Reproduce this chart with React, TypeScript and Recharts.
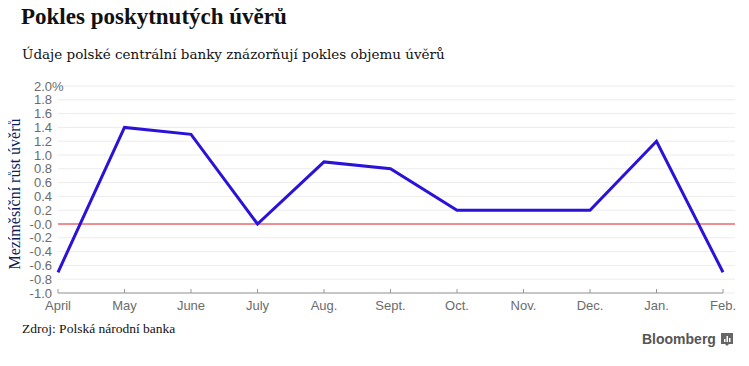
import React from "react";
import { LineChart, Line, XAxis, YAxis, CartesianGrid, ReferenceLine } from "recharts";

// meziměsíční změna objemu úvěrů (%)
const months = ["April", "May", "June", "July", "Aug.", "Sept.", "Oct.", "Nov.", "Dec.", "Jan.", "Feb."];
const growth = [-0.7, 1.4, 1.3, 0.0, 0.9, 0.8, 0.2, 0.2, 0.2, 1.2, -0.7];
const yTicks = [-1.0, -0.8, -0.6, -0.4, -0.2, 0, 0.2, 0.4, 0.6, 0.8, 1.0, 1.2, 1.4, 1.6, 1.8, 2.0];
const yTickLabels = ["-1.0", "-0.8", "-0.6", "-0.4", "-0.2", "-0.0", "0.2", "0.4", "0.6", "0.8", "1.0", "1.2", "1.4", "1.6", "1.8", "2.0"];

const data = months.map((m, i) => ({ m, v: growth[i] }));

const sans = "'Liberation Sans', Arial, sans-serif";
const serif = "'Liberation Serif', 'Times New Roman', serif";
const wideSerif = "'DejaVu Serif', serif";

function YTick(props: any) {
  const { x, y, payload, index } = props;
  const label = yTickLabels[index] ?? String(payload.value);
  const top = index === yTicks.length - 1;
  return (
    <g>
      <text x={x} y={y} dy={4.5} textAnchor="end" fill="#6b6b6b" fontSize={13} fontFamily={sans}>
        {label}
      </text>
      {top && (
        <text x={x} y={y} dy={4.5} textAnchor="start" fill="#6b6b6b" fontSize={13} fontFamily={sans}>
          %
        </text>
      )}
    </g>
  );
}

function XTick(props: any) {
  const { x, y, payload } = props;
  return (
    <g>
      <line x1={x} x2={x} y1={y - 4} y2={y} stroke="#999" strokeWidth={1} />
      <text x={x} y={y} dy={17} textAnchor="middle" fill="#6b6b6b" fontSize={13} fontFamily={sans}>
        {payload.value}
      </text>
    </g>
  );
}

export default function App() {
  return (
    <div style={{ position: "relative", width: 749, height: 366, margin: -8, background: "#fff", overflow: "hidden" }}>
      <div style={{ position: "absolute", left: 21, top: 4, fontFamily: serif, fontWeight: 700, fontSize: 23, color: "#111" }}>
        Pokles poskytnutých úvěrů
      </div>
      <div style={{ position: "absolute", left: 22, top: 46, fontFamily: wideSerif, fontSize: 13.5, color: "#111" }}>
        Údaje polské centrální banky znázorňují pokles objemu úvěrů
      </div>
      <div
        style={{
          position: "absolute",
          left: 15,
          top: 194,
          transform: "translate(-50%, -50%) rotate(-90deg)",
          whiteSpace: "nowrap",
          fontFamily: serif,
          fontSize: 16,
          color: "#0d1c5a",
        }}
      >
        Mezíměsíční růst úvěrů
      </div>
      <div style={{ position: "absolute", left: 22, top: 321, fontFamily: serif, fontSize: 13.5, color: "#111" }}>
        Zdroj: Polská národní banka
      </div>
      <div
        style={{
          position: "absolute",
          left: 642,
          top: 331,
          fontFamily: sans,
          fontWeight: 700,
          fontSize: 14,
          color: "#555",
          display: "flex",
          alignItems: "center",
          gap: 5,
        }}
      >
        Bloomberg
        <svg width={12} height={13} viewBox="0 0 12 13">
          <rect x={0} y={0} width={12} height={11} fill="#666" />
          <path d="M4 11 L6 13 L8 11 Z" fill="#666" />
          <rect x={3} y={6} width={1.5} height={3} fill="#fff" />
          <rect x={5.5} y={3} width={1.5} height={6} fill="#fff" />
          <rect x={8} y={5} width={1.5} height={4} fill="#fff" />
        </svg>
      </div>
      <div style={{ position: "absolute", left: 0, top: 0 }}>
        <LineChart width={749} height={366} data={data} margin={{ top: 86, right: 14, bottom: 0, left: 0 }}>
          <CartesianGrid horizontal vertical={false} stroke="#ececec" />
          <XAxis
            dataKey="m"
            axisLine={false}
            tickLine={false}
            tickSize={0}
            tickMargin={0}
            height={73}
            interval={0}
            padding={{ left: 0, right: 12 }}
            tick={<XTick />}
          />
          <YAxis
            domain={[-1, 2]}
            ticks={yTicks}
            interval={0}
            axisLine={false}
            tickLine={false}
            tickSize={0}
            tickMargin={6}
            width={58}
            tick={<YTick />}
          />
          <ReferenceLine
            segment={[
              { x: "April", y: -1 },
              { x: "Feb.", y: -1 },
            ]}
            stroke="#999"
            strokeWidth={1}
          />
          <ReferenceLine y={0} stroke="#e8292f" strokeWidth={1.2} />
          <Line
            type="linear"
            dataKey="v"
            stroke="#2a12d9"
            strokeWidth={3}
            dot={false}
            isAnimationActive={false}
          />
        </LineChart>
      </div>
    </div>
  );
}
